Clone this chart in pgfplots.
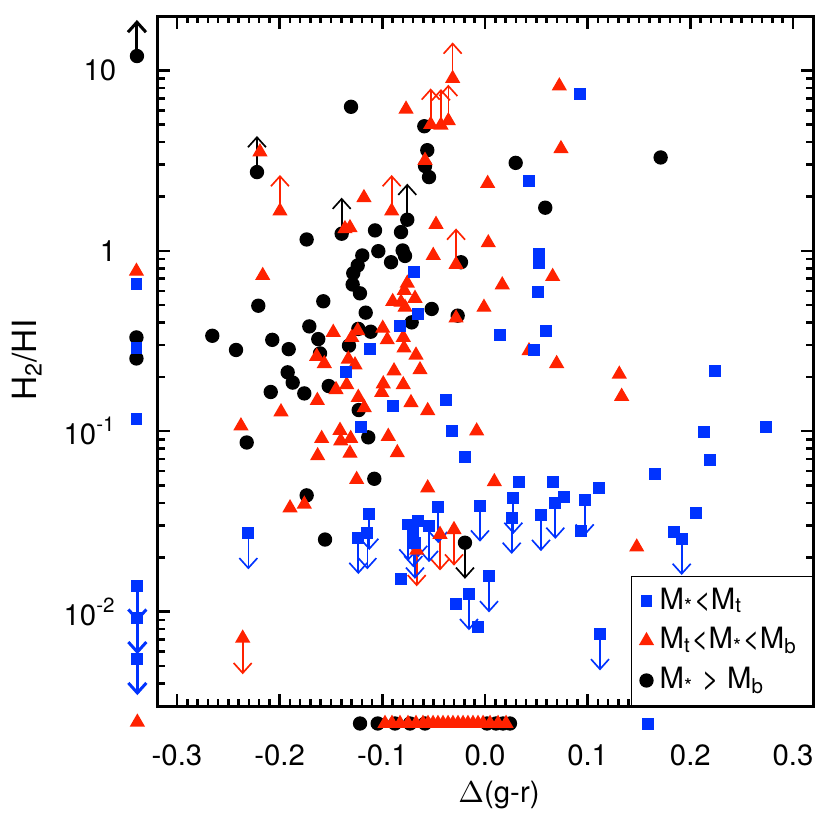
\documentclass[border=0pt]{standalone}
\usepackage{fontspec}
\setmainfont{TeX Gyre Heros}
\usepackage{pgfplots}
\usepackage{pgfplotstable}
\pgfplotsset{compat=1.18}
\usetikzlibrary{arrows.meta}
\definecolor{cblue}{RGB}{0,51,255}
\definecolor{cred}{RGB}{255,34,0}
\newcommand\fs{\fontsize{8.8}{10.5}\selectfont}
\pgfplotsset{mylegimg/.style={legend image code/.code={%
    \draw[mark repeat=2,mark phase=2,##1] plot coordinates {(0pt,0pt) (3pt,0pt) (7pt,0pt)};}}}

% black circles (M* > Mb)
\pgfplotstableread{
x y
-0.339 12.0
-0.1305 6.28
-0.2221 2.73
-0.1396 1.243
-0.1737 1.155
-0.1071 1.297
-0.1039 0.995
-0.0915 0.864
-0.1195 0.942
-0.1240 0.829
-0.1283 0.751
-0.0818 1.269
-0.0757 1.486
-0.0802 1.004
-0.0779 0.936
-0.1289 0.650
-0.1218 0.581
-0.1575 0.525
-0.1162 0.454
-0.0591 4.90
-0.0562 3.61
-0.0584 2.95
-0.0545 2.56
0.0299 3.07
0.1711 3.29
0.0587 1.733
-0.0234 0.864
-0.0266 0.437
-0.0519 0.476
-0.0714 0.401
-0.3395 0.331
-0.3395 0.253
-0.2208 0.496
-0.2656 0.338
-0.2425 0.282
-0.2072 0.321
-0.1912 0.285
-0.1711 0.381
-0.1624 0.324
-0.1607 0.270
-0.1922 0.212
-0.1873 0.186
-0.2087 0.165
-0.1760 0.162
-0.1522 0.178
-0.2321 0.0866
-0.1325 0.298
-0.1234 0.369
-0.1113 0.356
-0.1230 0.131
-0.1137 0.0925
-0.1078 0.0545
-0.1737 0.0441
-0.1558 0.0251
-0.0195 0.0241
-0.1217 0.0024
-0.1045 0.0024
-0.0877 0.0024
-0.0730 0.0024
-0.0584 0.0024
0.0019 0.0024
0.0107 0.0024
0.0175 0.0024
0.0243 0.0024
}\blackdata

% red triangles (Mt < M* < Mb)
\pgfplotstableread{
x y
-0.3395 0.770
-0.2192 3.53
-0.1997 1.66
-0.1179 1.97
-0.0909 1.66
-0.1364 1.325
-0.1315 1.342
-0.2165 0.729
-0.0315 9.01
-0.0529 5.01
-0.0429 4.97
-0.0357 5.25
-0.0769 6.09
-0.0584 3.17
0.0724 8.19
0.0740 3.68
0.0026 2.36
-0.0477 1.40
-0.0504 0.942
-0.0282 0.839
0.0032 1.107
0.0659 0.720
0.0168 0.647
-0.0010 0.486
-0.0282 0.424
-0.0757 0.661
-0.0786 0.602
-0.0899 0.523
-0.0818 0.518
-0.0682 0.545
-0.0779 0.486
-0.0996 0.372
-0.0952 0.321
-0.0796 0.331
-0.0789 0.289
-0.0672 0.264
-0.0633 0.219
-0.0886 0.216
-0.0991 0.183
-0.0796 0.181
-0.1006 0.164
-0.0721 0.144
-0.0558 0.130
-0.0081 0.1003
-0.0942 0.0936
-0.0854 0.0760
0.0091 0.0525
-0.0558 0.0485
0.0429 0.279
0.0698 0.237
0.1308 0.207
0.1331 0.156
0.1478 0.0228
-0.2377 0.107
-0.1987 0.128
-0.1633 0.148
-0.1639 0.260
-0.1565 0.237
-0.1478 0.353
-0.1451 0.170
-0.1347 0.181
-0.1331 0.251
-0.1298 0.331
-0.1240 0.361
-0.1266 0.233
-0.1234 0.154
-0.1176 0.135
-0.1591 0.0911
-0.1630 0.0731
-0.1412 0.1011
-0.1405 0.0884
-0.1308 0.0911
-0.1315 0.0755
-0.1250 0.0540
-0.1899 0.0376
-0.1760 0.0394
-0.0438 0.0268
-0.0302 0.0285
-0.0665 0.0219
-0.2360 0.00713
-0.3386 0.00244
-0.0974 0.0024
-0.0906 0.0024
-0.0828 0.0024
-0.0750 0.0024
-0.0672 0.0024
-0.0604 0.0024
-0.0555 0.0024
-0.0506 0.0024
-0.0458 0.0024
-0.0409 0.0024
-0.0360 0.0024
-0.0312 0.0024
-0.0263 0.0024
-0.0214 0.0024
-0.0166 0.0024
-0.0117 0.0024
-0.0068 0.0024
-0.0019 0.0024
0.0049 0.0024
0.0127 0.0024
0.0205 0.0024
}\reddata

% blue squares (M* < Mt)
\pgfplotstableread{
x y
-0.3395 0.654
-0.3395 0.289
-0.3395 0.1166
-0.3386 0.01394
-0.3386 0.00920
-0.3386 0.00546
0.0925 7.42
0.0426 2.44
0.0529 0.962
0.0526 0.853
-0.0689 0.760
0.0516 0.594
-0.0656 0.447
-0.0828 0.384
0.0146 0.343
0.0591 0.361
0.0480 0.282
-0.1120 0.285
-0.1357 0.214
-0.0899 0.138
-0.0383 0.149
-0.1211 0.106
-0.0318 0.1003
-0.0192 0.0722
0.2240 0.216
0.2734 0.106
0.2133 0.0991
0.2192 0.0693
0.1659 0.0578
0.2052 0.0354
0.0331 0.0525
0.0662 0.0521
0.1113 0.0485
0.0767 0.0433
0.0971 0.0418
0.0276 0.0427
0.0685 0.0401
-0.0455 0.0380
-0.0049 0.0387
0.0260 0.0331
0.0545 0.0343
0.0932 0.0279
-0.1127 0.0348
-0.2305 0.0272
-0.1234 0.0256
-0.1146 0.0272
-0.0821 0.0152
-0.0747 0.0304
-0.0650 0.0318
-0.0545 0.0298
-0.0698 0.0279
-0.0682 0.0241
0.0039 0.0157
-0.0156 0.0125
-0.0285 0.0110
-0.0065 0.00818
0.1844 0.0276
0.1916 0.0253
0.1120 0.00749
0.1585 0.00239
}\bluedata

% limits: arrows up / down
\pgfplotstableread{
x y
-0.2221 2.73
-0.1396 1.243
-0.0757 1.486
}\blackup
\pgfplotstableread{
x y
-0.339 12.0
}\blackupthick
\pgfplotstableread{
x y
-0.0195 0.0241
}\blackdown
\pgfplotstableread{
x y
-0.1997 1.66
-0.0909 1.66
-0.0315 9.01
-0.0529 5.01
-0.0429 4.97
-0.0357 5.25
-0.0282 0.839
}\redup
\pgfplotstableread{
x y
-0.0438 0.0268
-0.0302 0.0285
-0.0665 0.0219
-0.2360 0.00713
}\reddown
\pgfplotstableread{
x y
0.0971 0.0418
0.0276 0.0427
0.0685 0.0401
-0.0455 0.0380
-0.0049 0.0387
0.0260 0.0331
0.0545 0.0343
-0.1127 0.0348
-0.2305 0.0272
-0.1234 0.0256
-0.1146 0.0272
-0.0747 0.0304
-0.0650 0.0318
-0.0545 0.0298
-0.0698 0.0279
-0.0682 0.0241
0.0039 0.0157
-0.0156 0.0125
0.1916 0.0253
0.1120 0.00749
}\bluedown
\pgfplotstableread{
x y
-0.3386 0.01394
-0.3386 0.00920
-0.3386 0.00546
}\bluedownthick

\begin{document}
\begin{tikzpicture}
\useasboundingbox (-47.4pt,-37.2pt) rectangle (201.6pt,211.8pt);
\begin{axis}[
    scale only axis,
    width=196.5pt, height=207pt,
    xmin=-0.3185, xmax=0.3195,
    ymode=log, ymin=0.003, ymax=20,
    clip=false,
    axis line style={line width=0.9pt},
    every tick/.style={black, line width=0.75pt},
    major tick length=3.75pt, minor tick length=2pt,
    xtick={-0.3,-0.2,-0.1,0,0.1,0.2,0.3},
    xticklabels={-0.3,-0.2,-0.1,0.0,0.1,0.2,0.3},
    minor x tick num=9,
    ytick={0.01,0.1,1,10},
    yticklabels={10\textsuperscript{-2},10\textsuperscript{-1},1,10},
    minor ytick={0.004,0.005,0.006,0.007,0.008,0.009,
        0.02,0.03,0.04,0.05,0.06,0.07,0.08,0.09,
        0.2,0.3,0.4,0.5,0.6,0.7,0.8,0.9,
        2,3,4,5,6,7,8,9},
    tick label style={font=\fs},
    xticklabel style={yshift=-8pt},
    yticklabel style={xshift=-9pt},
    xlabel={$\Delta$(g-r)},
    ylabel={H\textsubscript{2}/HI},
    xlabel style={font=\fs, at={(axis description cs:0.5206,-0.129)}, anchor=center},
    ylabel style={font=\fontsize{10}{12}\selectfont, at={(axis description cs:-0.2,0.501)}, anchor=center},
    legend style={at={(1,0)}, anchor=south east, draw=black, line width=0.4pt,
        fill=white, font=\fs, row sep=0pt, inner xsep=2.5pt, inner ysep=1.5pt},
    legend cell align=left,
    arrowdn/.style={forget plot, draw=none, mark=none,
        error bars/.cd, y dir=minus, y explicit relative, error mark=none},
    arrowup/.style={forget plot, draw=none, mark=none,
        error bars/.cd, y dir=plus, y explicit relative, error mark=none},
]
\addlegendimage{only marks, mark=square*, mark size=1.58pt, color=cblue, mylegimg}
\addlegendentry{M\textsubscript{*}<M\textsubscript{t}}
\addlegendimage{only marks, mark=triangle*, mark size=2.25pt, color=cred, mylegimg}
\addlegendentry{M\textsubscript{t}<M\textsubscript{*}<M\textsubscript{b}}
\addlegendimage{only marks, mark=*, mark size=1.95pt, color=black, mylegimg}
\addlegendentry{M\textsubscript{*} > M\textsubscript{b}}

% arrows (limits)
\addplot[arrowup, error bar style={draw=black, line width=0.5pt, -{Straight Barb[length=3pt,width=5.4pt]}}]
    table[y error expr=0.585] {\blackup};
\addplot[arrowup, error bar style={draw=black, line width=0.9pt, -{Straight Barb[length=3pt,width=5.4pt]}}]
    table[y error expr=0.585] {\blackupthick};
\addplot[arrowdn, error bar style={draw=black, line width=0.5pt, -{Straight Barb[length=3pt,width=5.4pt]}}]
    table[y error expr=0.369] {\blackdown};
\addplot[arrowup, error bar style={draw=cred, line width=0.5pt, -{Straight Barb[length=3pt,width=5.4pt]}}]
    table[y error expr=0.585] {\redup};
\addplot[arrowdn, error bar style={draw=cred, line width=0.5pt, -{Straight Barb[length=3pt,width=5.4pt]}}]
    table[y error expr=0.369] {\reddown};
\addplot[arrowdn, error bar style={draw=cblue, line width=0.5pt, -{Straight Barb[length=3pt,width=5.4pt]}}]
    table[y error expr=0.369] {\bluedown};
\addplot[arrowdn, error bar style={draw=cblue, line width=0.9pt, -{Straight Barb[length=3pt,width=5.4pt]}}]
    table[y error expr=0.369] {\bluedownthick};

% markers
\addplot[forget plot, only marks, mark=*, mark size=1.95pt, color=black] table {\blackdata};
\addplot[forget plot, only marks, mark=triangle*, mark size=2.25pt, color=cred] table {\reddata};
\addplot[forget plot, only marks, mark=square*, mark size=1.58pt, color=cblue] table {\bluedata};
\end{axis}
\end{tikzpicture}
\end{document}
